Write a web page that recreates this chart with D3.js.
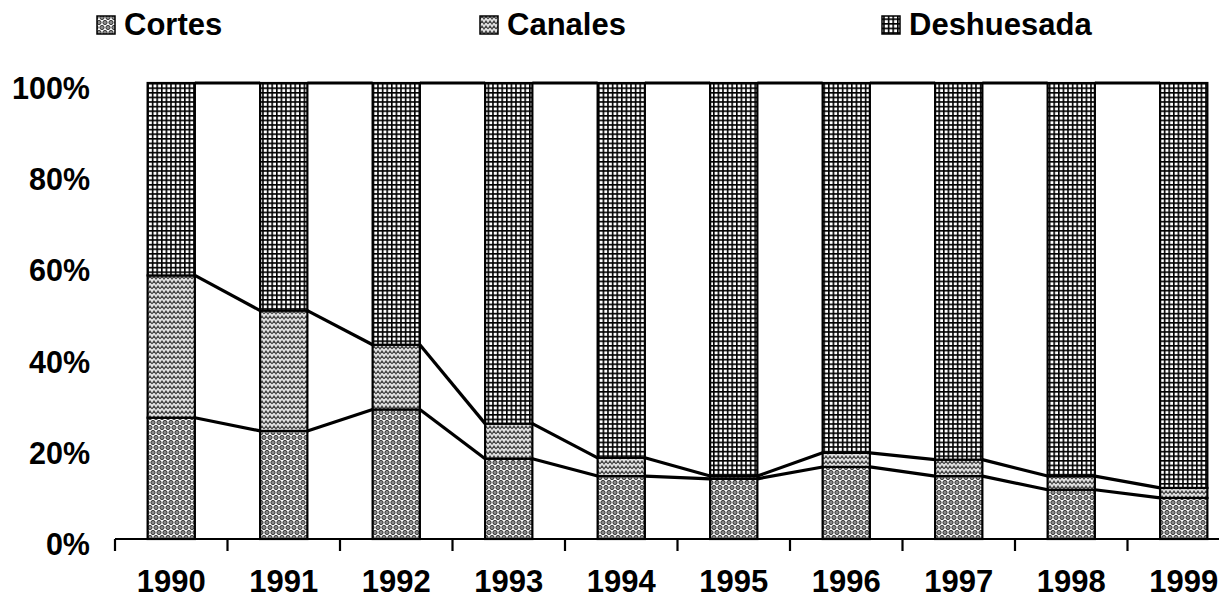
<html>
<head>
<script src="https://cdn.jsdelivr.net/npm/d3@7"></script>
<style>
	body { margin:0; background:#fff; }
	text { font-family:"Liberation Sans", Arial, sans-serif; font-weight:bold; fill:#000; }
</style>
</head>
<body>
<svg id="svg" width="1219" height="606"></svg>
<script>
// data (percent of total)
const years = ["1990","1991","1992","1993","1994","1995","1996","1997","1998","1999"];
const cortes = [26.6, 23.7, 28.4, 17.6, 13.8, 13.2, 15.8, 13.8, 10.8, 9.0];
const canales = [31.2, 26.4, 14.2, 7.7, 4.0, 0.6, 3.1, 3.6, 3.0, 2.2];
const deshuesada = years.map((y, i) => 100 - cortes[i] - canales[i]);
const seriesNames = ["Cortes", "Canales", "Deshuesada"];
const yTicks = [0, 20, 40, 60, 80, 100];

const svg = d3.select("#svg");

// patterns
const defs = svg.append("defs");

let p = defs.append("pattern").attr("id", "pCortes")
	.attr("patternUnits", "userSpaceOnUse").attr("width", 6).attr("height", 10);
p.append("rect").attr("width", 6).attr("height", 10).attr("fill", "#fff");
[[3, 2.5], [0, 7.5], [6, 7.5]].forEach(c => {
	p.append("circle").attr("cx", c[0]).attr("cy", c[1]).attr("r", 2.1)
		.attr("fill", "#8a8a8a").attr("stroke", "#222").attr("stroke-width", 0.9);
});

p = defs.append("pattern").attr("id", "pCanales")
	.attr("patternUnits", "userSpaceOnUse").attr("width", 8).attr("height", 5);
p.append("rect").attr("width", 8).attr("height", 5).attr("fill", "#e2e2e2");
p.append("path").attr("d", "M0,4 L2,1 L4,4 L6,1 L8,4")
	.attr("fill", "none").attr("stroke", "#444").attr("stroke-width", 1.2);

p = defs.append("pattern").attr("id", "pDesh")
	.attr("patternUnits", "userSpaceOnUse").attr("width", 4.6).attr("height", 4.6);
p.append("rect").attr("width", 4.6).attr("height", 4.6).attr("fill", "#fff");
p.append("path").attr("d", "M0,0.8 H4.6 M0.8,0 V4.6")
	.attr("fill", "none").attr("stroke", "#000").attr("stroke-width", 1.6);

const fills = ["url(#pCortes)", "url(#pCanales)", "url(#pDesh)"];

// scales
const x = d3.scaleBand().domain(years).range([115, 1240])
	.paddingInner(0.58).paddingOuter(0.29);
const y = d3.scaleLinear().domain([0, 100]).range([539, 83]);

// stacked data
const table = years.map((yr, i) => ({year: yr, Cortes: cortes[i], Canales: canales[i], Deshuesada: deshuesada[i]}));
const stack = d3.stack().keys(seriesNames)(table);

// bars
stack.forEach((layer, k) => {
	svg.append("g").selectAll("rect").data(layer).enter().append("rect")
		.attr("x", d => x(d.data.year))
		.attr("width", x.bandwidth())
		.attr("y", d => y(d[1]))
		.attr("height", d => y(d[0]) - y(d[1]))
		.attr("fill", fills[k])
		.attr("stroke", "#000").attr("stroke-width", 2.2);
});

// series lines between bars
stack.forEach(layer => {
	const segs = [];
	for (let i = 0; i < layer.length - 1; i++) {
		segs.push([[x(years[i]) + x.bandwidth(), y(layer[i][1])], [x(years[i+1]), y(layer[i+1][1])]]);
	}
	svg.append("g").selectAll("path").data(segs).enter().append("path")
		.attr("d", d => d3.line()(d))
		.attr("stroke", "#000").attr("stroke-width", 3.2).attr("fill", "none");
});

// x axis
const gap = (x.step() - x.bandwidth()) / 2;
svg.append("line").attr("x1", 115).attr("x2", 1219)
	.attr("y1", y(0)).attr("y2", y(0)).attr("stroke", "#000").attr("stroke-width", 2.2);
svg.append("g").selectAll("line").data(years).enter().append("line")
	.attr("x1", d => x(d) - gap).attr("x2", d => x(d) - gap)
	.attr("y1", y(0)).attr("y2", y(0) + 12)
	.attr("stroke", "#000").attr("stroke-width", 2.2);
svg.append("g").selectAll("text").data(years).enter().append("text")
	.attr("x", d => x(d) + x.bandwidth() / 2)
	.attr("y", 592)
	.attr("text-anchor", "middle")
	.style("font-size", "31px")
	.text(d => d);

// y labels
svg.append("g").selectAll("text").data(yTicks).enter().append("text")
	.attr("x", 90)
	.attr("y", d => y(d) + 16)
	.attr("text-anchor", "end")
	.style("font-size", "30.5px")
	.text(d => d + "%");

// legend
const legendX = [97, 480, 882];
seriesNames.forEach((name, k) => {
	svg.append("rect").attr("x", legendX[k]).attr("y", 16).attr("width", 18).attr("height", 18)
		.attr("fill", fills[k]).attr("stroke", "#000").attr("stroke-width", 1.5);
	svg.append("text").attr("x", legendX[k] + 27).attr("y", 35)
		.style("font-size", "31px").text(name);
});
</script>
</body>
</html>
